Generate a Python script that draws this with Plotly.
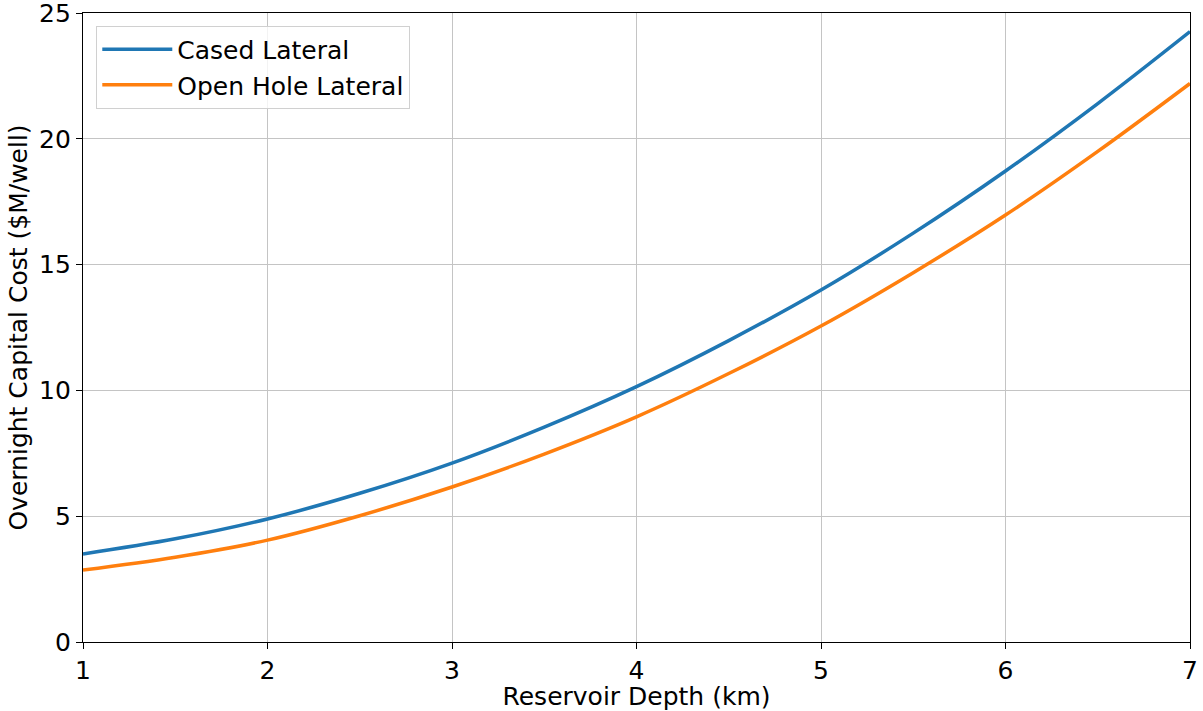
import plotly.graph_objects as go

depth_km = [1.0, 1.5, 2.0, 2.5, 3.0, 3.5, 4.0, 4.5, 5.0, 5.5, 6.0, 6.5, 7.0]
cased_lateral = [3.50, 4.10, 4.89, 5.91, 7.11, 8.54, 10.15, 11.98, 13.99, 16.25, 18.72, 21.40, 24.26]
open_hole_lateral = [2.86, 3.37, 4.05, 5.02, 6.16, 7.47, 8.95, 10.67, 12.56, 14.68, 16.97, 19.50, 22.20]

x_ticks = [1, 2, 3, 4, 5, 6, 7]
y_ticks = [0, 5, 10, 15, 20, 25]

font = "DejaVu Sans"
fs = 25

fig = go.Figure()
fig.add_trace(go.Scatter(x=depth_km, y=cased_lateral, mode="lines", name="Cased Lateral",
                         line=dict(color="#1f77b4", width=3.5, shape="spline")))
fig.add_trace(go.Scatter(x=depth_km, y=open_hole_lateral, mode="lines", name="Open Hole Lateral",
                         line=dict(color="#ff7f0e", width=3.5, shape="spline")))

axis_common = dict(showline=True, linecolor="black", linewidth=1.2, mirror=True,
                   ticks="outside", ticklen=6, tickwidth=1.2, tickcolor="black",
                   showgrid=True, gridcolor="#c4c4c4", gridwidth=1, zeroline=False,
                   automargin=False, ticklabeloverflow="allow",
                   tickfont=dict(family=font, size=fs, color="black"))

fig.update_layout(
    width=1203, height=711,
    margin=dict(l=83, r=13, t=13, b=69),
    plot_bgcolor="white", paper_bgcolor="white",
    font=dict(family=font, size=fs, color="black"),
    xaxis=dict(range=[1, 7], tickvals=x_ticks,
               title=dict(text="Reservoir Depth (km)", font=dict(family=font, size=fs), standoff=5),
               **axis_common),
    yaxis=dict(range=[0, 25], tickvals=y_ticks,
               title=dict(text="Overnight Capital Cost ($M/well)", font=dict(family=font, size=fs), standoff=4),
               **axis_common),
    legend=dict(x=0.012, y=0.98, xanchor="left", yanchor="top",
                bgcolor="rgba(255,255,255,0.8)", bordercolor="#d0d0d0", borderwidth=1,
                font=dict(family=font, size=fs), tracegroupgap=2, itemwidth=70),
    showlegend=True,
)

fig.write_html("out.html", config={"displayModeBar": False},
               post_script="document.body.style.margin='0';document.body.style.overflow='hidden';")
